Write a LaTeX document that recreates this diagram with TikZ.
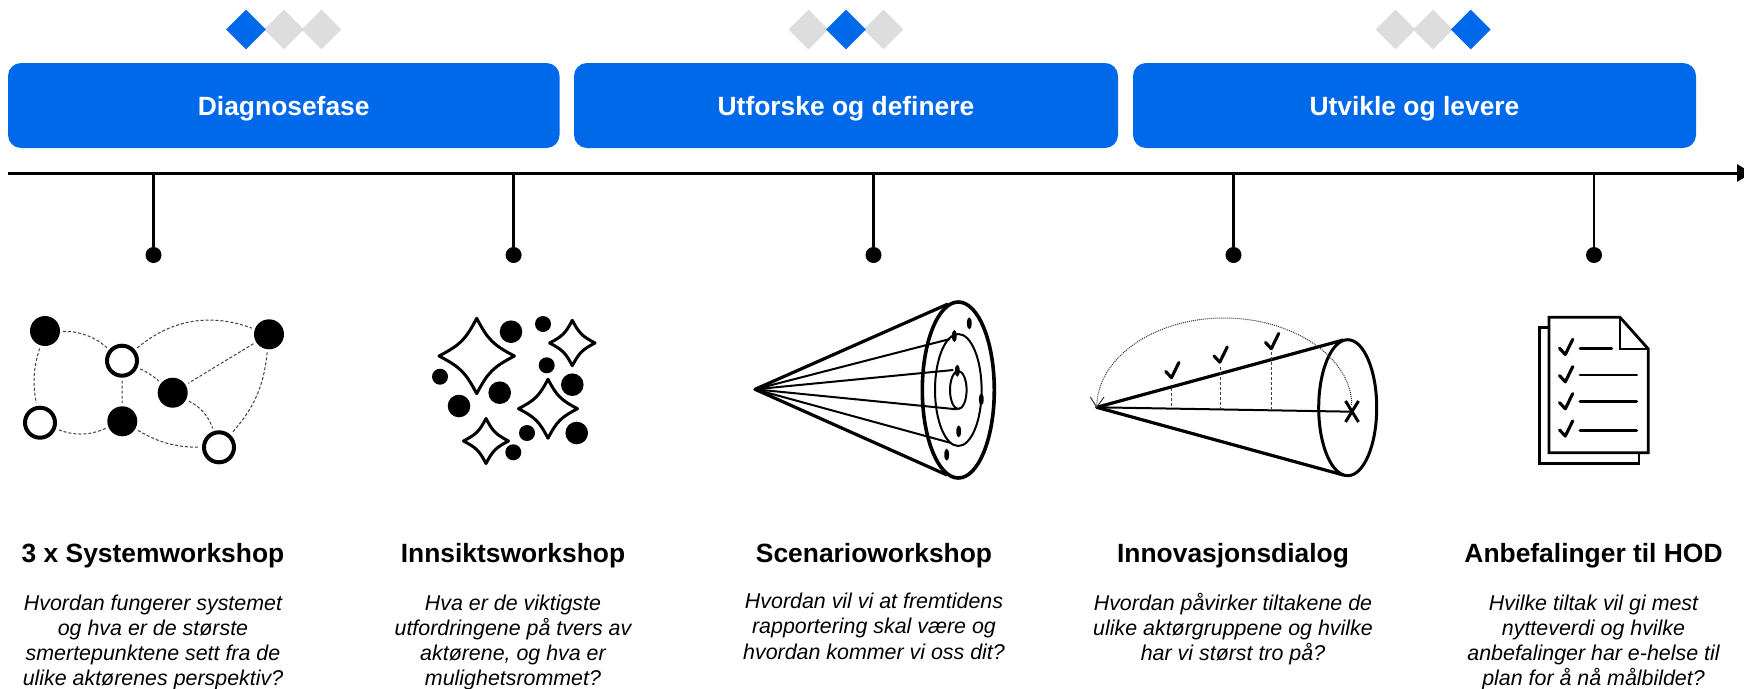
\documentclass[tikz,border=0pt]{standalone}
\usepackage{fontspec}
\setmainfont{Liberation Sans}
\usetikzlibrary{arrows.meta,shapes.geometric}
\definecolor{bluefill}{HTML}{0069EA}
\definecolor{grayfill}{HTML}{DDDDDD}
\tikzset{
  phasebox/.style={fill=bluefill,rounded corners=13pt,minimum height=85pt,inner sep=0pt,text=white,font=\fontsize{26.4}{30}\selectfont\bfseries},
  diamondmark/.style={diamond,aspect=1,minimum size=40pt,inner sep=0pt,fill=#1},
  stemline/.style={line width=2.5pt},
  enddot/.style={circle,fill=black,minimum size=16pt,inner sep=0pt},
  headtext/.style={font=\fontsize{26.4}{31}\selectfont\bfseries,inner sep=0pt},
  bodytext/.style={font=\fontsize{21.4}{25.2}\selectfont\itshape,align=center,anchor=north,inner sep=0pt},
  solidnode/.style={circle,fill=black,minimum size=30pt,inner sep=0pt},
  opennode/.style={circle,draw=black,line width=4pt,fill=white,minimum size=30pt,inner sep=0pt},
  netedge/.style={densely dashed,line width=1pt,black!75,shorten >=3pt,shorten <=3pt},
  spot/.style={fill=black},
  heavy/.style={line width=3.2pt,line join=round},
  mediumline/.style={line width=2pt},
  tick/.style={line width=3.1pt,line join=round,line cap=round},
  guide/.style={densely dashed,line width=1pt,black!75},
  pageline/.style={line width=2.8pt,line join=miter},
  rowline/.style={line width=2.8pt,line cap=round},
}
\newcommand{\astroidshape}[3]{%
  \draw[line width=3pt,line join=round,shift={(#1,#2)},scale=#3]
    (0,-1) .. controls (.3,-.43) and (.43,-.3) .. (1,0)
    .. controls (.43,.3) and (.3,.43) .. (0,1)
    .. controls (-.3,.43) and (-.43,.3) .. (-1,0)
    .. controls (-.43,-.3) and (-.3,-.43) .. (0,-1) -- cycle;}
\newcommand{\spotdot}[3]{\fill[spot] (#1,#2) circle[radius=#3pt];}
\newcommand{\seed}[2]{\fill[spot] (#1,#2) ellipse[x radius=2.4pt,y radius=6pt];}
\newcommand{\tickmark}[2]{\draw[tick,shift={(#1,#2)}] (0,0) -- (5.8,6.2) -- (13.2,-9);}
\newcommand{\phasetext}[1]{\raisebox{-10.2pt}[0pt][0pt]{#1}}
\begin{document}
\begin{tikzpicture}[x=1pt,y=-1pt]
\useasboundingbox (0,0) rectangle (1744,688);
\clip (0,0) rectangle (1744,688);
\fill[white] (0,0) rectangle (1744,688);
% diamonds
\node[diamondmark=grayfill] (m2) at (284,29.5) {};
\node[diamondmark=grayfill] (m3) at (321.5,29.5) {};
\node[diamondmark=bluefill] (m1) at (246,29.5) {};
\node[diamondmark=grayfill] (m4) at (808.5,29.5) {};
\node[diamondmark=grayfill] (m6) at (883.5,29.5) {};
\node[diamondmark=bluefill] (m5) at (846,29.5) {};
\node[diamondmark=grayfill] (m7) at (1395.5,29.5) {};
\node[diamondmark=grayfill] (m8) at (1433,29.5) {};
\node[diamondmark=bluefill] (m9) at (1470.7,29.5) {};
% phase boxes
\node[phasebox,minimum width=551.5pt] (p1) at (283.75,105.5) {\phasetext{Diagnosefase}};
\node[phasebox,minimum width=544pt] (p2) at (846,105.5) {\phasetext{Utforske og definere}};
\node[phasebox,minimum width=563pt] (p3) at (1414.5,105.5) {\phasetext{Utvikle og levere}};
% timeline
\coordinate (ts) at (8,173);
\coordinate (te) at (1752,173);
\draw[line width=3pt,-{Triangle[length=15pt,width=17pt]}] (ts) -- (te);
\foreach \n/\x in {1/153.5,2/513.6,3/873.5,4/1233.5,5/1594}{
  \coordinate (t\n) at (\x,173);
  \node[enddot] (d\n) at (\x,255) {};
  \draw[stemline] (t\n) -- (d\n);
}
% icon 1: network
\node[solidnode] (na) at (45,331) {};
\node[opennode] (nb) at (122,360.7) {};
\node[solidnode] (nc) at (269,334.3) {};
\node[solidnode] (nd) at (172.7,392.7) {};
\node[solidnode] (ne) at (122.3,421.3) {};
\node[opennode] (nf) at (40,422.7) {};
\node[opennode] (ng) at (219,447.3) {};
\draw[netedge] (na) to[bend left=20] (nb);
\draw[netedge] (na) to[bend right=14] (nf);
\draw[netedge] (nb) to[bend left=30] (nc);
\draw[netedge] (nb) to[bend left=8] (nd);
\draw[netedge] (nb) -- (ne);
\draw[netedge] (nc) -- (nd);
\draw[netedge] (nc) to[bend left=18] (ng);
\draw[netedge] (nd) to[bend left=22] (ng);
\draw[netedge] (ne) to[bend left=22] (nf);
\draw[netedge] (ne) to[bend right=15] (ng);
% icon 2: sparkles
\astroidshape{476.7}{356}{37.7}
\astroidshape{572.3}{343}{22.7}
\astroidshape{548}{408.7}{29.5}
\astroidshape{486}{441}{22.5}
\spotdot{511}{331.7}{11.3}
\spotdot{543}{324}{8}
\spotdot{546.7}{365.3}{8}
\spotdot{572.3}{384.7}{11.3}
\spotdot{440}{376.7}{8}
\spotdot{459}{406}{11.3}
\spotdot{499.7}{392.7}{11.3}
\spotdot{527}{433}{8}
\spotdot{576.7}{433}{11.3}
\spotdot{513.3}{452.3}{8}
% icon 3: cone with rings
\coordinate (ca) at (755,389.3);
\draw[line width=3.6pt] (958.3,390) ellipse[x radius=36pt,y radius=88pt];
\draw[mediumline] (958.3,390) ellipse[x radius=23.3pt,y radius=56pt];
\draw[mediumline] (958.3,390) ellipse[x radius=8.3pt,y radius=19pt];
\coordinate (ct) at (948,304);
\coordinate (cb) at (947,475);
\draw[heavy] (ct) -- (ca) -- (cb);
\coordinate (c1) at (950,339);
\coordinate (c2) at (953.3,370);
\coordinate (c3) at (956.7,409.3);
\coordinate (c4) at (950,442.7);
\draw[mediumline] (ca) -- (c1);
\draw[mediumline] (ca) -- (c2);
\draw[mediumline] (ca) -- (c3);
\draw[mediumline] (ca) -- (c4);
\seed{969.3}{323.3}
\seed{954.3}{336}
\seed{957.3}{370.7}
\seed{981.3}{399.3}
\seed{958.7}{431.3}
\seed{946.7}{454.7}
% icon 4: cone with checks
\coordinate (ea) at (1096.7,407.3);
\coordinate (et) at (1343.3,340);
\coordinate (eb) at (1343.3,475);
\coordinate (ex) at (1352,411.7);
\draw[line width=3pt] (1347.7,407.7) ellipse[x radius=29pt,y radius=68pt];
\draw[heavy] (et) -- (ea) -- (eb);
\draw[mediumline] (ea) -- (ex);
\draw[line width=3pt] (1345.5,401) -- (1358.5,422);
\draw[line width=3pt] (1358.5,401) -- (1345.5,422);
\draw[line width=1pt,densely dotted,black!80] (ea) .. controls (1096.7,358.4) and (1153.6,318) .. (1224,318) .. controls (1294.4,318) and (1351.7,358.4) .. (1351.7,405);
\draw[line width=1pt,black!80] (1090.3,397) -- (ea) -- (1104,397);
\draw[guide] (1171.3,388) -- (1171.3,407.5);
\draw[guide] (1220,367) -- (1220,409);
\draw[guide] (1271.3,352) -- (1271.3,409);
\tickmark{1165.7}{371.5}
\tickmark{1214}{356}
\tickmark{1265.5}{342.5}
% icon 5: document
\draw[pageline] (1549,327.7) -- (1539.3,327.7) -- (1539.3,463.3) -- (1639,463.3) -- (1639,452.7);
\draw[pageline,fill=white] (1549,317.3) -- (1620,317.3) -- (1648.3,349) -- (1648.3,452.7) -- (1549,452.7) -- cycle;
\draw[pageline] (1620,317.3) -- (1620,349) -- (1648.3,349);
\draw[rowline] (1580,348.3) -- (1611.7,348.3);
\draw[rowline] (1580,375) -- (1636.7,375);
\draw[rowline] (1580,401.7) -- (1636.7,401.7);
\draw[rowline] (1580,430.7) -- (1636.7,430.7);
\tickmark{1559.5}{348.3}
\tickmark{1559.5}{375.6}
\tickmark{1559.5}{402.6}
\tickmark{1559.5}{429.9}
% headings
\node[headtext] (h1) at (153,555.5) {3 x Systemworkshop};
\node[headtext] (h2) at (513,555.5) {Innsiktsworkshop};
\node[headtext] (h3) at (874,555.5) {Scenarioworkshop};
\node[headtext] (h4) at (1233,555.5) {Innovasjonsdialog};
\node[headtext] (h5) at (1593.5,555.5) {Anbefalinger til HOD};
% body
\node[bodytext] (b1) at (153,594.5) {Hvordan fungerer systemet\\og hva er de største\\smertepunktene sett fra de\\ulike aktørenes perspektiv?};
\node[bodytext] (b2) at (513,594.5) {Hva er de viktigste\\utfordringene på tvers av\\aktørene, og hva er\\mulighetsrommet?};
\node[bodytext] (b3) at (874,593) {Hvordan vil vi at fremtidens\\rapportering skal være og\\hvordan kommer vi oss dit?};
\node[bodytext] (b4) at (1233,593) {Hvordan påvirker tiltakene de\\ulike aktørgruppene og hvilke\\har vi størst tro på?};
\node[bodytext] (b5) at (1593.5,594.5) {Hvilke tiltak vil gi mest\\nytteverdi og hvilke\\anbefalinger har e-helse til\\plan for å nå målbildet?};
\end{tikzpicture}
\end{document}
